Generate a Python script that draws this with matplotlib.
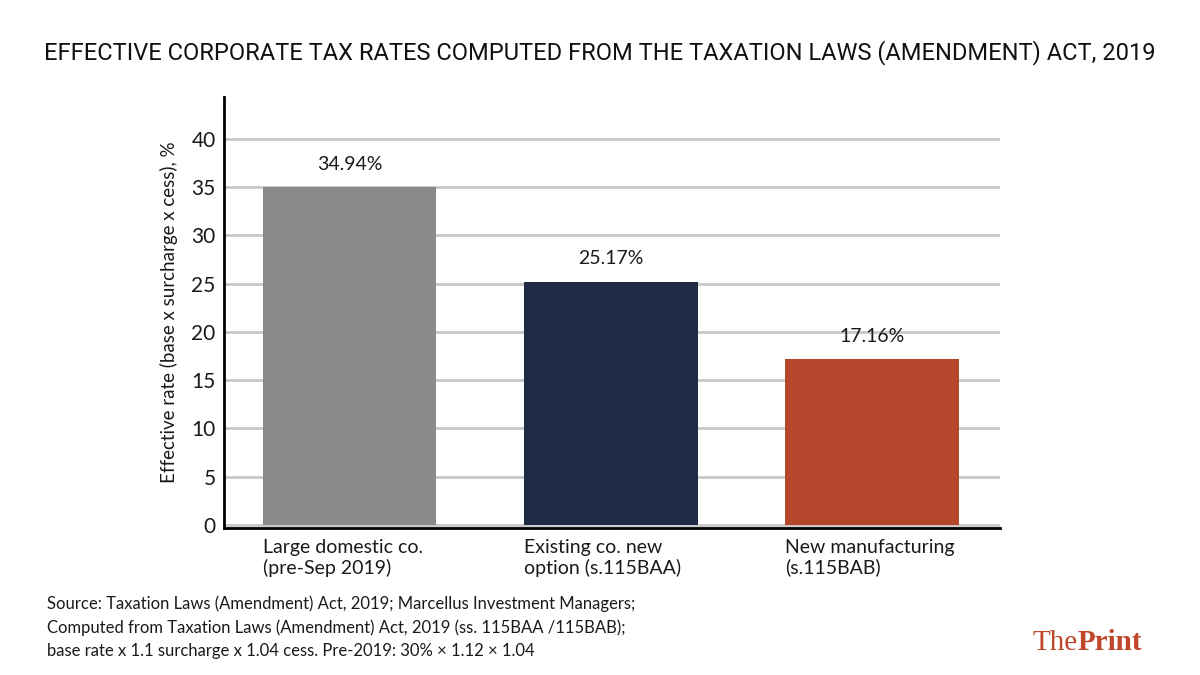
import matplotlib.pyplot as plt

# data
categories = ["Large domestic co.\n(pre-Sep 2019)",
              "Existing co. new\noption (s.115BAA)",
              "New manufacturing\n(s.115BAB)"]
rates = [34.94, 25.17, 17.16]
bar_colors = ["#8a8a8a", "#1f2a44", "#b5462b"]
yticks = [0, 5, 10, 15, 20, 25, 30, 35, 40]

plt.rcParams['font.family'] = ['Lato', 'DejaVu Sans']
txt = '#1a1a1a'

fig = plt.figure(figsize=(12, 6.75), dpi=100)
ax = fig.add_axes([0.1867, 0.2178, 0.6467, 0.6385])

x = range(len(rates))
ax.bar(x, rates, width=0.665, color=bar_colors, zorder=3)
for i, v in enumerate(rates):
    ax.text(i, v + 1.5, f"{v:.2f}%", ha='center', va='bottom',
            fontsize=14, color=txt)

ax.set_xlim(-0.48, 2.49)
ax.set_ylim(-0.3, 44.3)
ax.set_yticks(yticks)
ax.set_yticklabels([str(t) for t in yticks], fontsize=15, color=txt)
ax.yaxis.grid(True, color='#c8c8c8', linewidth=2)
ax.set_axisbelow(True)
ax.tick_params(axis='y', length=0, pad=6)
ax.set_xticks([])
for s in ['top', 'right']:
    ax.spines[s].set_visible(False)
ax.spines['left'].set_linewidth(2)
ax.spines['bottom'].set_linewidth(2)
ax.set_ylabel("Effective rate (base x surcharge x cess), %", fontsize=13.5,
              color=txt, labelpad=10)

# category labels, left-aligned under each bar
for i, c in enumerate(categories):
    ax.text(i - 0.3325, -1.4, c, ha='left', va='top', fontsize=14,
            color=txt, linespacing=1.2)

fig.text(0.5, 0.922, "EFFECTIVE CORPORATE TAX RATES COMPUTED FROM THE TAXATION LAWS (AMENDMENT) ACT, 2019",
         ha='center', va='center', fontsize=17, family='Roboto', color='#111111')

fig.text(0.039, 0.118,
         "Source: Taxation Laws (Amendment) Act, 2019; Marcellus Investment Managers;\n"
         "Computed from Taxation Laws (Amendment) Act, 2019 (ss. 115BAA /115BAB);\n"
         "base rate x 1.1 surcharge x 1.04 cess. Pre-2019: 30% \u00d7 1.12 \u00d7 1.04",
         ha='left', va='top', fontsize=12, color=txt, linespacing=1.55)

fig.text(0.898, 0.037, "The", ha='right', va='baseline', fontsize=21,
         family='Liberation Serif', color='#c0462a')
fig.text(0.898, 0.037, "Print", ha='left', va='baseline', fontsize=21,
         family='Liberation Serif', fontweight='bold', color='#c0462a')

plt.savefig("out.png", dpi=100)
